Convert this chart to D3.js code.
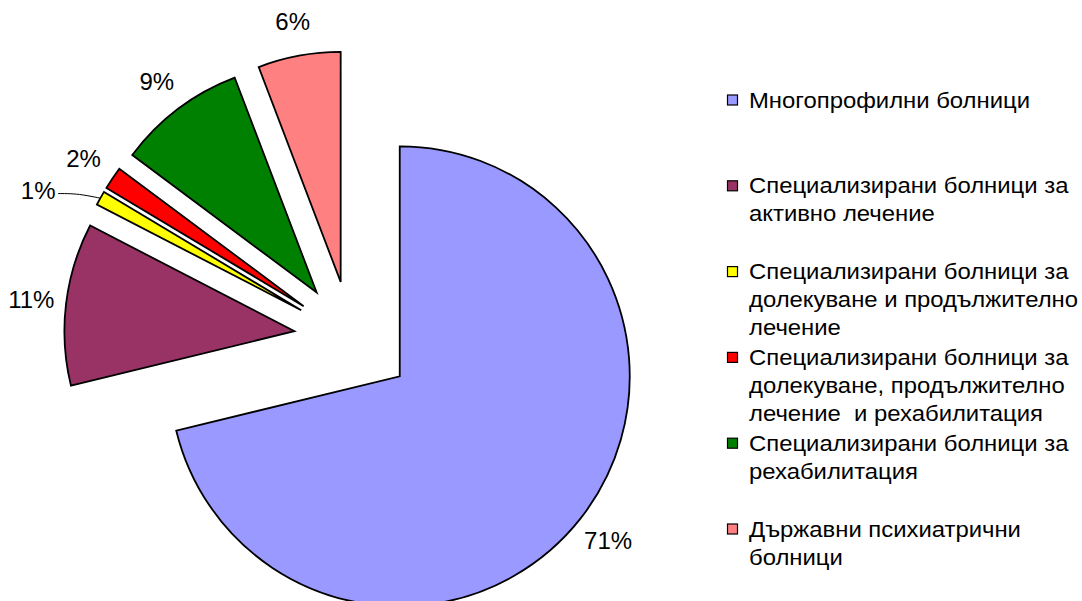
<!DOCTYPE html>
<html>
<head>
<meta charset="utf-8">
<script src="https://cdn.jsdelivr.net/npm/d3@7"></script>
<style>
  body { margin: 0; background: #fff; }
  text { font-family: "Liberation Sans", Arial, sans-serif; fill: #000; }
</style>
</head>
<body>
<svg id="chart" width="1082" height="601"></svg>
<script>
// Data
var categories = [
  ["Многопрофилни болници"],
  ["Специализирани болници за", "активно лечение"],
  ["Специализирани болници за", "долекуване и продължително", "лечение"],
  ["Специализирани болници за", "долекуване, продължително", "лечение  и рехабилитация"],
  ["Специализирани болници за", "рехабилитация"],
  ["Държавни психиатрични", "болници"]
];
var values = [71.2, 11.4, 1.0, 1.6, 9.0, 5.8];
var percentLabels = ["71%", "11%", "1%", "2%", "9%", "6%"];
var sliceColors = ["#9999FF", "#993366", "#FFFF00", "#FF0000", "#008000", "#FF8080"];

// layout
var cx = 351, cy = 338;      // pie centre before exploding
var radius = 230;
var explodeBig = 62;         // first (largest) slice
var explodeSmall = 57;       // all the others
var labelDist = 265;         // from a slice's tip to its label centre

var svg = d3.select("#chart");

var pie = d3.pie().sort(null).value(function(d) { return d; });
var arc = d3.arc().innerRadius(0).outerRadius(radius);
var arcs = pie(values);

function dir(a) { return [Math.sin(a), -Math.cos(a)]; }
function mid(d) { return (d.startAngle + d.endAngle) / 2; }
function origin(d) {
  var u = dir(mid(d));
  var e = d.index === 0 ? explodeBig : explodeSmall;
  return [cx + e * u[0], cy + e * u[1]];
}

svg.append("g")
  .selectAll("path")
  .data(arcs)
  .enter()
  .append("path")
    .attr("d", arc)
    .attr("transform", function(d) { var o = origin(d); return "translate(" + o[0] + "," + o[1] + ")"; })
    .attr("fill", function(d, i) { return sliceColors[i]; })
    .attr("stroke", "#000")
    .attr("stroke-width", 1.8)
    .attr("stroke-linejoin", "miter");

// percent labels; the tiny slice gets pushed aside with a leader line
function labelPos(d, i) {
  var o = origin(d);
  var a = mid(d), r = labelDist;
  if (values[i] < 1.3) { a -= 4.7 * Math.PI / 180; r = labelDist + 24; }
  var u = dir(a);
  return [o[0] + r * u[0], o[1] + r * u[1]];
}

svg.append("g")
  .selectAll("text")
  .data(arcs)
  .enter()
  .append("text")
    .attr("x", function(d, i) { return labelPos(d, i)[0]; })
    .attr("y", function(d, i) { return labelPos(d, i)[1]; })
    .attr("text-anchor", "middle")
    .attr("dominant-baseline", "central")
    .style("font-size", "24px")
    .text(function(d, i) { return percentLabels[i]; });

// leader line for the small label
arcs.forEach(function(d, i) {
  if (values[i] >= 1.3) return;
  var p = labelPos(d, i), o = origin(d), u = dir(mid(d));
  var end = [o[0] + radius * u[0], o[1] + radius * u[1]];
  var start = [p[0] + 20, p[1] + 3];
  var line = d3.line().curve(d3.curveBasis);
  svg.append("path")
    .attr("d", line([start, [start[0] + 12, start[1]], [start[0] + 24, start[1] + 1], end]))
    .attr("fill", "none")
    .attr("stroke", "#000")
    .attr("stroke-width", 1);
});

// legend
var legendY = d3.scaleLinear().domain([0, categories.length - 1]).range([100, 529]);
var lineH = 28;
var stretch = 1.085;

var legend = svg.append("g")
  .selectAll("g")
  .data(categories)
  .enter()
  .append("g")
    .attr("transform", function(d, i) { return "translate(727," + legendY(i) + ")"; });

legend.append("rect")
  .attr("x", 0.5)
  .attr("y", -5)
  .attr("width", 10)
  .attr("height", 10)
  .attr("fill", function(d, i) { return sliceColors[i]; })
  .attr("stroke", "#000")
  .attr("stroke-width", 1.2);

legend.append("text")
  .attr("transform", "scale(" + stretch + ",1)")
  .style("font-size", "22px")
  .style("white-space", "pre")
  .selectAll("tspan")
  .data(function(d) { return d; })
  .enter()
  .append("tspan")
    .attr("x", 22 / stretch)
    .attr("y", function(d, j) { return j * lineH; })
    .attr("dominant-baseline", "central")
    .text(function(d) { return d; });
</script>
</body>
</html>
